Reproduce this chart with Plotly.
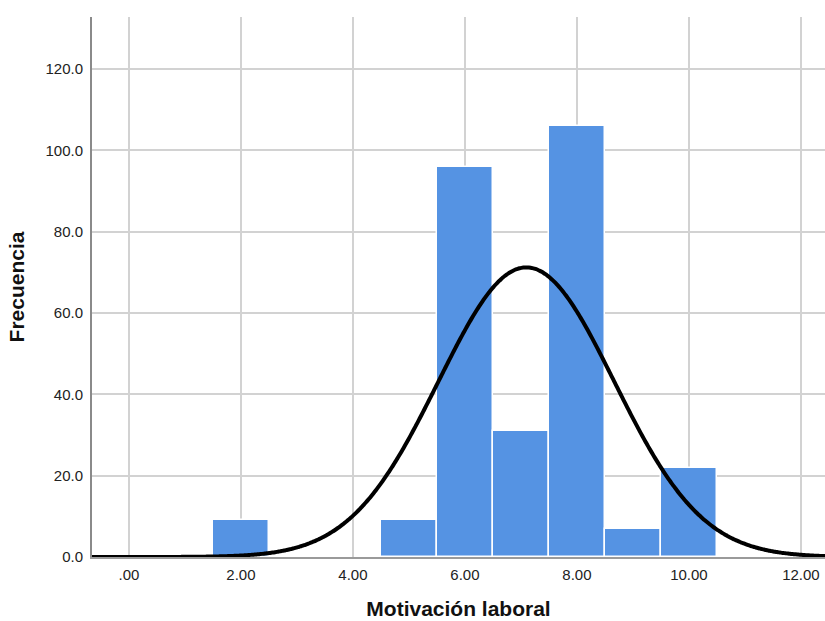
import numpy as np
import plotly.graph_objects as go

# Histogram of "Motivación laboral" (bin width 1)
bin_centers = [2, 5, 6, 7, 8, 9, 10]
frequencies = [9, 9, 96, 31, 106, 7, 22]
bin_width = 1.0

x_tick_vals = [0, 2, 4, 6, 8, 10, 12]
x_tick_text = [".00", "2.00", "4.00", "6.00", "8.00", "10.00", "12.00"]
y_tick_vals = [0, 20, 40, 60, 80, 100, 120]
y_tick_text = ["0.0", "20.0", "40.0", "60.0", "80.0", "100.0", "120.0"]

# Fitted normal curve from the grouped data
centers = np.array(bin_centers, dtype=float)
freq = np.array(frequencies, dtype=float)
n = freq.sum()
mean = (centers * freq).sum() / n
sd = np.sqrt(((centers - mean) ** 2 * freq).sum() / (n - 1))
xs = np.linspace(-0.7, 12.5, 400)
ys = n * bin_width / (sd * np.sqrt(2 * np.pi)) * np.exp(-0.5 * ((xs - mean) / sd) ** 2)

fig = go.Figure()
fig.add_trace(go.Bar(
    x=bin_centers, y=frequencies, width=bin_width,
    marker=dict(color="#5593E3", line=dict(color="white", width=1.5)),
    hoverinfo="x+y", showlegend=False,
))
fig.add_trace(go.Scatter(
    x=xs, y=ys, mode="lines",
    line=dict(color="black", width=4, shape="spline"),
    hoverinfo="skip", showlegend=False,
))

font_family = "Liberation Sans, Arial, sans-serif"
fig.update_layout(
    width=825, height=621,
    margin=dict(l=92, r=0, t=17, b=64),
    paper_bgcolor="white", plot_bgcolor="white",
    bargap=0,
    font=dict(family=font_family, size=15, color="#222222"),
    xaxis=dict(
        range=[-0.66, 12.43],
        tickvals=x_tick_vals, ticktext=x_tick_text,
        showgrid=True, gridcolor="#D2D2D2", gridwidth=1.5,
        showline=True, linecolor="#9A9A9A", linewidth=1.5,
        zeroline=False, ticks="", ticklen=0,
        ticklabelstandoff=3,
        tickfont=dict(size=15, color="#222222"),
        title=dict(text="Motivación laboral", standoff=20,
                   font=dict(size=21, color="#111111", family=font_family, weight="bold")),
    ),
    yaxis=dict(
        range=[0, 132.8],
        tickvals=y_tick_vals, ticktext=y_tick_text,
        showgrid=True, gridcolor="#D2D2D2", gridwidth=1.5,
        showline=True, linecolor="#8A8A8A", linewidth=2,
        zeroline=False, ticks="", ticklen=0,
        ticklabelstandoff=4,
        tickfont=dict(size=15, color="#222222"),
        title=dict(text="Frecuencia", standoff=15,
                   font=dict(size=21, color="#111111", family=font_family, weight="bold")),
    ),
)

fig.write_html("out.html")
